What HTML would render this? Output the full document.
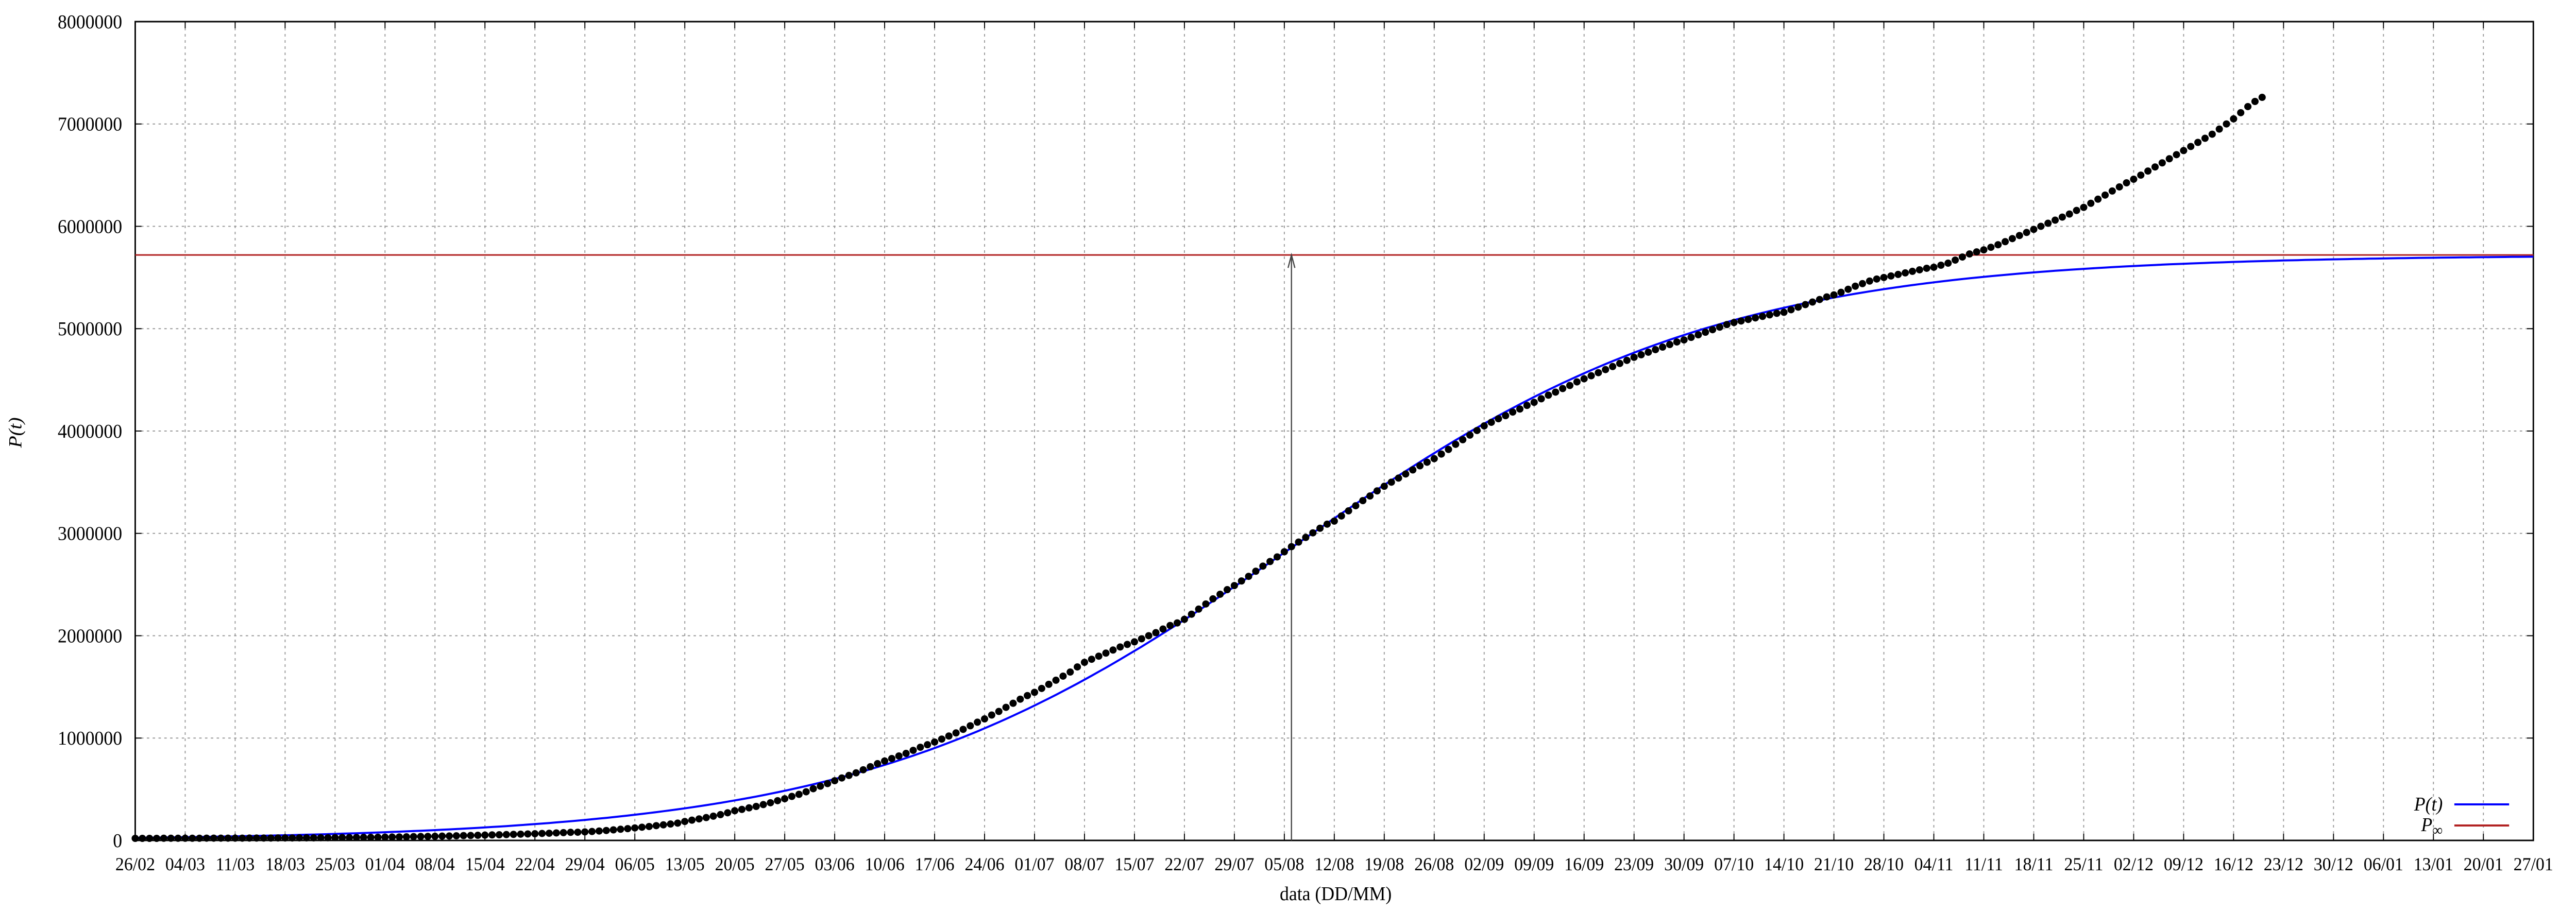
<!DOCTYPE html>
<html><head><meta charset="utf-8"><style>
html,body{margin:0;padding:0;background:#fff;width:100%;height:100%;overflow:hidden}
svg{display:block;position:absolute;left:0;top:0}
text{font-family:"Liberation Serif",serif;fill:#000}
</style></head><body>
<svg id="chart" width="100%" height="100%" viewBox="0 0 5315 1771" preserveAspectRatio="none" xmlns="http://www.w3.org/2000/svg">
<rect width="5315" height="1771" fill="#fff"/>
<g id="grid"></g>
<g id="axes"></g>
<g id="series"></g>
<text x="2756" y="1748" font-size="38" text-anchor="middle">data (DD/MM)</text>
<text x="0" y="0" font-size="38" font-style="italic" text-anchor="middle" transform="translate(44,840) rotate(-90)">P(t)</text>
<g>
<text x="5040" y="1574" font-size="38" font-style="italic" text-anchor="end">P(t)</text>
<line x1="5064" y1="1562" x2="5177" y2="1562" stroke="#0000ff" stroke-width="4"/>
<text x="5040" y="1614" font-size="38" font-style="italic" text-anchor="end">P<tspan font-size="30" dy="8" font-style="normal">∞</tspan></text>
<line x1="5064" y1="1603" x2="5177" y2="1603" stroke="#b22222" stroke-width="4"/>
</g>
</svg>
<script>
// ---- data ----
const xTickLabels = ["26/02","04/03","11/03","18/03","25/03","01/04","08/04","15/04","22/04","29/04","06/05","13/05","20/05","27/05","03/06","10/06","17/06","24/06","01/07","08/07","15/07","22/07","29/07","05/08","12/08","19/08","26/08","02/09","09/09","16/09","23/09","30/09","07/10","14/10","21/10","28/10","04/11","11/11","18/11","25/11","02/12","09/12","16/12","23/12","30/12","06/01","13/01","20/01","27/01"];
const yTickValues = [0,1000000,2000000,3000000,4000000,5000000,6000000,7000000,8000000];
// observed cumulative values (thousands), one per day from 26/02
const observed = [
0,0,0,0,1,1,1, 1,1,1,2,2,2,2, 2,2,3,3,3,3,4, 4,4,5,5,5,6,6,
7,8,8,9,10,10,11, 12,13,14,15,17,18,19, 20,22,23,25,27,28,30,
32,34,35,37,39,41,43, 45,48,50,53,56,59,60, 63,67,72,77,83,89,95,
102,109,116,124,132,140,149, 165,178,190,203,217,232,250, 270,283,298,312,330,348,368,
387,410,430,455,485,510,535, 563,590,615,640,670,700,730, 756,780,805,830,860,890,915,
941,970,1000,1030,1065,1100,1135, 1167,1205,1240,1280,1320,1360,1395, 1427,1465,1505,1545,1585,1625,1675,
1720,1750,1780,1810,1840,1870,1895, 1920,1950,1980,2010,2045,2080,2105, 2140,2190,2240,2290,2340,2385,2430,
2470,2515,2560,2610,2660,2705,2750, 2800,2850,2895,2940,2985,3030,3070, 3100,3150,3200,3250,3300,3345,3395,
3440,3480,3520,3560,3600,3640,3675, 3710,3755,3800,3850,3895,3940,3985, 4030,4065,4100,4130,4165,4195,4230,
4260,4295,4330,4360,4395,4425,4460, 4490,4520,4550,4580,4610,4640,4670, 4700,4725,4750,4775,4800,4825,4850,
4870,4895,4920,4945,4970,4995,5020, 5040,5055,5070,5085,5100,5115,5130, 5140,5165,5190,5215,5240,5265,5290,
5310,5335,5365,5395,5420,5445,5465, 5480,5495,5510,5525,5540,5555,5570, 5580,5600,5620,5650,5680,5710,5730,
5750,5775,5800,5830,5860,5890,5920, 5950,5980,6010,6040,6070,6100,6135, 6165,6205,6245,6285,6325,6365,6405,
6440,6480,6520,6560,6600,6640,6680, 6720,6760,6800,6840,6880,6930,6980, 7030,7090,7150,7200,7240];
// logistic fit parameters
const fitK = [5720000];
const fitRate = [0.0335];
const fitT0 = [162];
const totalDays = 336;

// ---- scales ----
const L=279,R=5227,T=42,B=1632;
const xs = d => L + d*(R-L)/totalDays;
const ys = v => B - v*(B-T)/8000000;
const NS="http://www.w3.org/2000/svg";
function mk(tag, attrs, parent){const e=document.createElementNS(NS,tag);for(const k in attrs)e.setAttribute(k,attrs[k]);parent.appendChild(e);return e;}
const grid=document.getElementById('grid'), axes=document.getElementById('axes'), series=document.getElementById('series');

xTickLabels.forEach((lab,i)=>{
  const x=xs(i*7);
  if(i>0&&i<xTickLabels.length-1){
    const g=mk('line',{x1:x,y1:T,x2:x,y2:B,stroke:'#999','stroke-width':2,'stroke-dasharray':'5,7'},grid);
    
    
  }
  const t1=mk('line',{x1:x,y1:B,x2:x,y2:B-13,stroke:'#000','stroke-width':2},axes);
  
  
  const t2=mk('line',{x1:x,y1:T,x2:x,y2:T+13,stroke:'#000','stroke-width':2},axes);
  
  
  const tx=mk('text',{x:x,y:1690,'font-size':36,'text-anchor':'middle'},axes);
  tx.textContent=lab;
  
  
});
yTickValues.forEach(v=>{
  const y=ys(v);
  if(v>0&&v<8000000){
    const g=mk('line',{x1:L,y1:y,x2:R,y2:y,stroke:'#999','stroke-width':2,'stroke-dasharray':'5,7'},grid);
    
    
  }
  const t1=mk('line',{x1:L,y1:y,x2:L+13,y2:y,stroke:'#000','stroke-width':2},axes);
  
  
  const t2=mk('line',{x1:R,y1:y,x2:R-13,y2:y,stroke:'#000','stroke-width':2},axes);
  
  
  const tx=mk('text',{x:252,y:y+13,'font-size':38,'text-anchor':'end'},axes);
  tx.textContent=String(v);
  
  
});
const frame=mk('rect',{x:L,y:T,width:R-L,height:B-T,fill:'none',stroke:'#000','stroke-width':3},axes);



// P-infinity line
const pinf=mk('line',{x1:L,y1:ys(fitK[0]),x2:R,y2:ys(fitK[0]),stroke:'#b22222','stroke-width':3},series);



// fit curve
let d='';
for(let t=0;t<=totalDays;t+=1){
  const v=fitK[0]/(1+Math.exp(-fitRate[0]*(t-fitT0[0])));
  d+=(t?'L':'M')+xs(t).toFixed(1)+','+ys(v).toFixed(1);
}
const fit=mk('path',{d:d,fill:'none',stroke:'#0000ff','stroke-width':4},series);



// arrow at inflection
const ax=xs(fitT0[0]);
const arr=mk('line',{x1:ax,y1:B,x2:ax,y2:ys(fitK[0]),stroke:'#444','stroke-width':2.5},series);


const ah=mk('path',{d:`M${ax-7},${ys(fitK[0])+25} L${ax},${ys(fitK[0])} L${ax+7},${ys(fitK[0])+25}`,fill:'none',stroke:'#444','stroke-width':2.5},series);



// observed points
observed.forEach((v,i)=>{
  const c=mk('ellipse',{cx:xs(i),cy:ys(v*1000)-4,rx:7.5,ry:7,fill:'#000'},series);
  
  
});
</script>
</body></html>
